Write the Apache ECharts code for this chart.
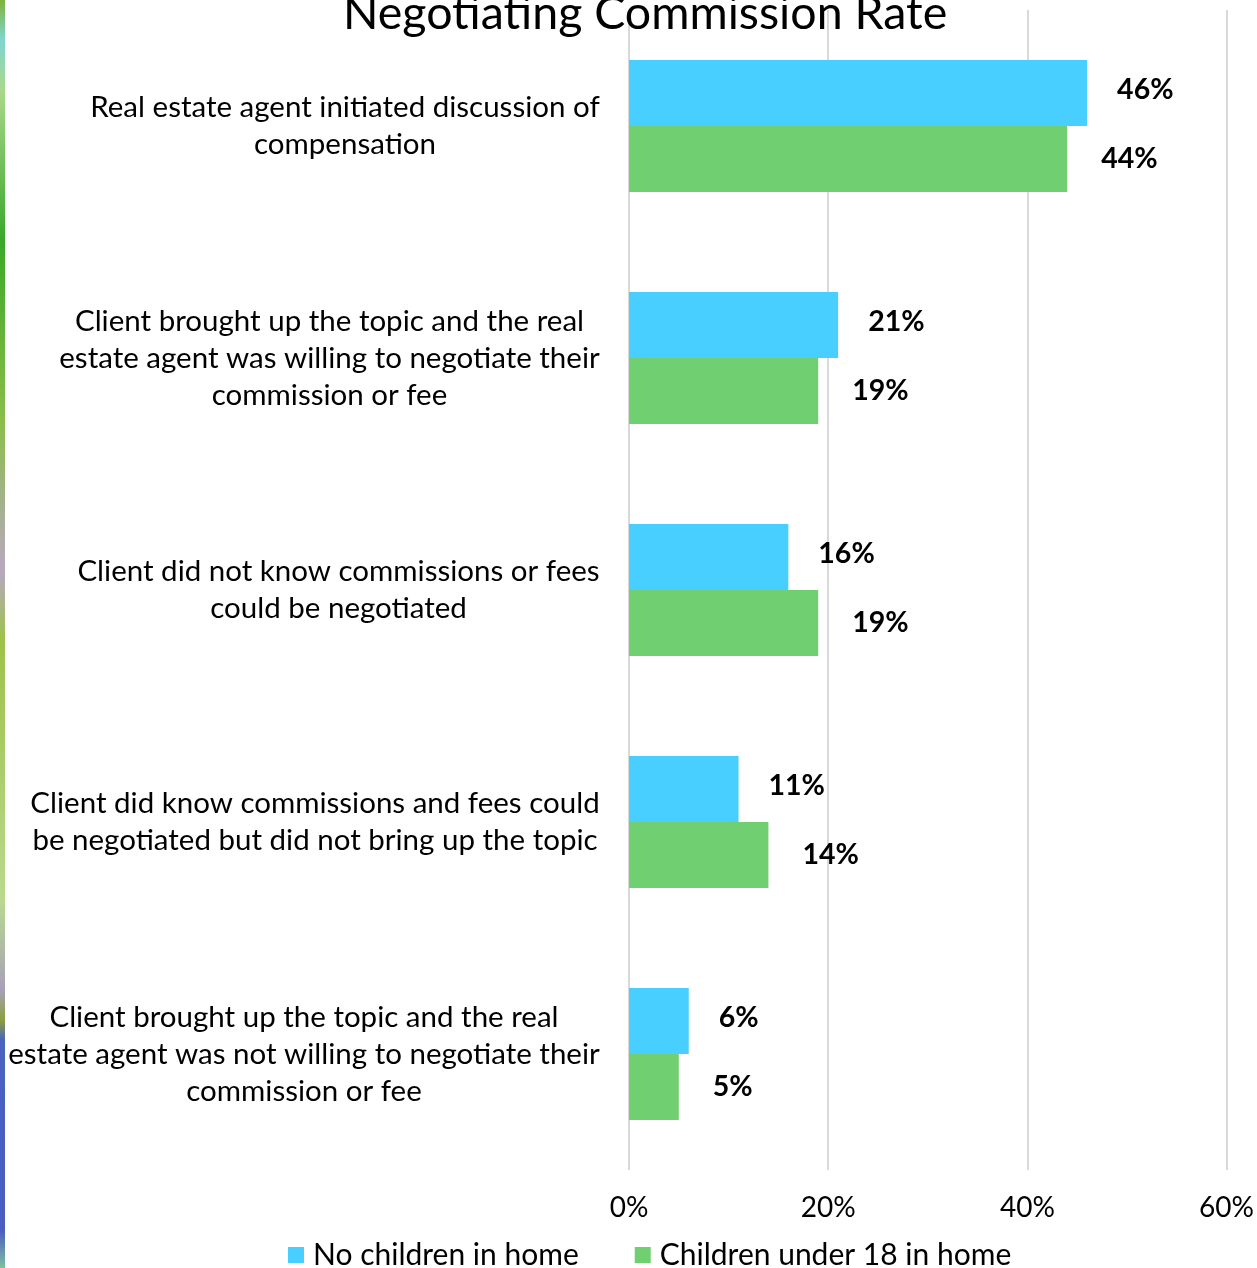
<!DOCTYPE html>
<html>
<head>
<meta charset="utf-8">
<script src="https://cdn.jsdelivr.net/npm/echarts@6/dist/echarts.min.js"></script>
<style>
  html, body { margin: 0; padding: 0; background: #fff; }
  #wrap { position: relative; width: 1257px; height: 1268px; }
  #chart { position: absolute; left: 0; top: 0; width: 1257px; height: 1268px; }
  #edge {
    position: absolute; left: 0; top: 0; width: 5px; height: 1268px; z-index: 10;
    background: linear-gradient(to bottom,
      #7fb23a 0px, #7fd6cf 40px, #a9d88a 90px, #3aa82a 240px, #8bbd4a 420px,
      #b8a8c0 570px, #9cc24a 640px, #b9d98e 900px, #a8a0b8 990px, #8aa03a 1020px,
      #4a62c0 1040px, #4a5cc0 1230px, #7fc0a0 1268px);
  }
</style>
</head>
<body>
<div id="wrap">
  <div id="chart"></div>
  <div id="edge"></div>
</div>
<script>
// Survey categories, top to bottom
const categories = [
  'Real estate agent initiated discussion of\ncompensation',
  'Client brought up the topic and the real\nestate agent was willing to negotiate their\ncommission or fee',
  'Client did not know commissions or fees\ncould be negotiated',
  'Client did know commissions and fees could\nbe negotiated but did not bring up the topic',
  'Client brought up the topic and the real\nestate agent was not willing to negotiate their\ncommission or fee'
];
const seriesNames = ['No children in home', 'Children under 18 in home'];
const noChildren = [46, 21, 16, 11, 6];
const childrenUnder18 = [44, 19, 19, 14, 5];
const xTicks = [0, 20, 40, 60];

const FONT = 'Lato, "Open Sans", sans-serif';
const LABEL_SIZE = 29.5;

// Measure each category block so its lines can be centred inside a right-aligned box
const ctx = document.createElement('canvas').getContext('2d');
ctx.font = LABEL_SIZE + 'px ' + FONT;
const rich = {};
categories.forEach((c, i) => {
  const w = Math.max(...c.split('\n').map(l => ctx.measureText(l).width));
  rich['c' + i] = { width: Math.ceil(w) + 2, align: 'center', fontSize: LABEL_SIZE,
                    fontFamily: FONT, color: '#000', lineHeight: 37 };
});

const valueLabel = {
  show: true, position: 'right', formatter: '{c}%',
  fontFamily: FONT, fontWeight: 'bold', fontSize: 28.5, color: '#000'
};

const chart = echarts.init(document.getElementById('chart'), null, { renderer: 'canvas' });
chart.setOption({
  animation: false,
  backgroundColor: '#fff',
  title: {
    text: 'Negotiating Commission Rate',
    left: 338,
    top: -15,
    textStyle: { fontFamily: FONT, fontWeight: 'normal', fontSize: 46.5, color: '#000' }
  },
  legend: {
    bottom: -7,
    left: 283,
    itemWidth: 16,
    itemHeight: 16,
    itemGap: 56,
    icon: 'rect',
    textStyle: { fontFamily: FONT, fontSize: 30, color: '#000', padding: [0, 0, 0, 4] },
    data: seriesNames
  },
  grid: { left: 629, right: 28, top: 10, bottom: 98, containLabel: false },
  xAxis: {
    type: 'value',
    min: xTicks[0],
    max: xTicks[xTicks.length - 1],
    interval: 20,
    axisLine: { show: false },
    axisTick: { show: false },
    splitLine: { show: true, lineStyle: { color: '#d9d9d9', width: 2 } },
    axisLabel: { formatter: '{value}%', fontFamily: FONT, fontSize: 28, color: '#000', margin: 24 }
  },
  yAxis: {
    type: 'category',
    inverse: true,
    data: categories,
    axisLine: { show: false },
    axisTick: { show: false },
    axisLabel: {
      margin: 28,
      align: 'right',
      formatter: (v, i) => '{c' + i + '|' + v + '}',
      rich: rich
    }
  },
  series: [
    {
      name: seriesNames[0], type: 'bar', data: noChildren,
      barWidth: 66, barGap: '0%',
      itemStyle: { color: '#48CFFF' },
      label: Object.assign({ distance: 30, offset: [0, -3] }, valueLabel)
    },
    {
      name: seriesNames[1], type: 'bar', data: childrenUnder18,
      barWidth: 66, barGap: '0%',
      itemStyle: { color: '#70CF70' },
      label: Object.assign({ distance: 34 }, valueLabel)
    }
  ]
});
</script>
</body>
</html>
